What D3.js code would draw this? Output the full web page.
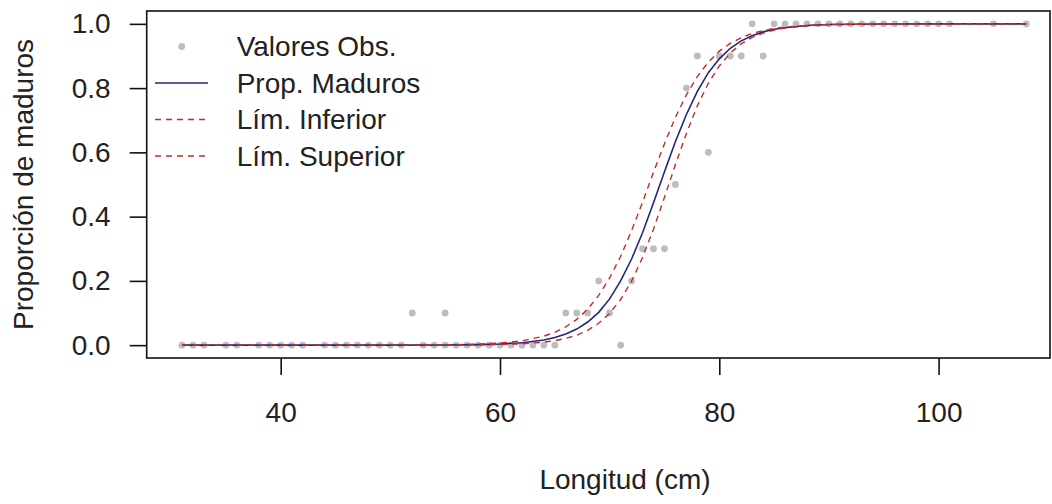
<!DOCTYPE html>
<html>
<head>
<meta charset="utf-8">
<script src="https://cdn.jsdelivr.net/npm/d3@7"></script>
<style>
  html, body { margin: 0; padding: 0; background: #fff; }
  svg { display: block; }
  text { font-family: "Liberation Sans", Arial, sans-serif; fill: #222; }
</style>
</head>
<body>
<svg id="chart" width="1052" height="504"></svg>
<script>
// Observed proportions (length in cm, proportion mature)
const obsLength = [31,32,33,35,36,38,39,40,41,42,44,45,46,47,48,49,50,51,
  52,53,54,55,55,56,57,58,59,60,61,62,63,64,65,
  66,67,68,69,70,71,72,73,74,75,76,77,78,79,80,81,82,83,84,
  85,86,87,88,89,90,91,92,93,94,95,96,97,98,99,100,101,105,108];
const obsProp = [0,0,0,0,0,0,0,0,0,0,0,0,0,0,0,0,0,0,
  0.1,0,0,0.1,0,0,0,0,0,0,0,0,0,0,0,
  0.1,0.1,0.1,0.2,0.1,0,0.2,0.3,0.3,0.3,0.5,0.8,0.9,0.6,0.9,0.9,0.9,1.0,0.9,
  1,1,1,1,1,1,1,1,1,1,1,1,1,1,1,1,1,1,1];

// Fitted curve and confidence limits, read at these lengths
const fitLength = [31,40,50,55,58,60,62,64,65,66,67,68,69,70,71,72,73,74,75,76,77,78,79,80,81,82,83,84,85,86,88,90,95,100,105,108];
const propMaduros = [0,0,0,0.0005,0.0017,0.0035,0.0076,0.016,0.024,0.035,0.050,0.072,0.102,0.144,0.200,0.268,0.350,0.443,0.540,0.634,0.718,0.790,0.848,0.891,0.924,0.947,0.963,0.975,0.983,0.988,0.995,0.998,0.9997,1,1,1];
const limInferior = [0,0,0,0.0002,0.0008,0.0018,0.0041,0.0093,0.014,0.021,0.031,0.046,0.068,0.099,0.142,0.199,0.273,0.361,0.460,0.562,0.659,0.745,0.815,0.869,0.909,0.938,0.958,0.971,0.981,0.987,0.994,0.9975,0.9997,1,1,1];
const limSuperior = [0,0,0.0002,0.001,0.0031,0.0065,0.0135,0.028,0.040,0.057,0.080,0.112,0.155,0.209,0.276,0.356,0.445,0.538,0.627,0.709,0.779,0.836,0.881,0.915,0.939,0.957,0.970,0.979,0.986,0.990,0.995,0.998,0.9996,1,1,1];

const xTicks = [40,60,80,100];
const yTicks = [0,0.2,0.4,0.6,0.8,1.0];
const legendLabels = ["Valores Obs.","Prop. Maduros","Lím. Inferior","Lím. Superior"];

const svg = d3.select("#chart");
const W = 1052, H = 504;
const box = {left: 146.7, right: 1050, top: 11, bottom: 358};

const x = d3.scaleLinear().domain([27.78, 110.16]).range([box.left, box.right]);
const y = d3.scaleLinear().domain([-0.04, 1.04]).range([box.bottom, box.top]);

svg.append("rect").attr("width", W).attr("height", H).attr("fill", "#fff");

// points
svg.append("g").selectAll("circle").data(obsLength.map((d,i)=>[d,obsProp[i]]))
  .join("circle")
  .attr("cx", d=>x(d[0])).attr("cy", d=>y(d[1])).attr("r", 3.4)
  .attr("fill", "#bdbdbd");

const line = d3.line().x(d=>x(d[0])).y(d=>y(d[1]));
const blue = "#25257e", red = "#c42a2a";
svg.append("path").datum(fitLength.map((d,i)=>[d,propMaduros[i]]))
  .attr("d", line).attr("fill","none").attr("stroke", blue).attr("stroke-width", 1.6);
svg.append("path").datum(fitLength.map((d,i)=>[d,limInferior[i]]))
  .attr("d", line).attr("fill","none").attr("stroke", red).attr("stroke-width", 1.4)
  .attr("stroke-dasharray","6,5");
svg.append("path").datum(fitLength.map((d,i)=>[d,limSuperior[i]]))
  .attr("d", line).attr("fill","none").attr("stroke", red).attr("stroke-width", 1.4)
  .attr("stroke-dasharray","6,5");

// box
svg.append("rect").attr("x", box.left).attr("y", box.top)
  .attr("width", box.right-box.left).attr("height", box.bottom-box.top)
  .attr("fill","none").attr("stroke","#111").attr("stroke-width",1.6);

// axes
const xAxis = d3.axisBottom(x).tickValues(xTicks).tickSize(17).tickPadding(27).tickFormat(d3.format("d"));
const gx = svg.append("g").attr("transform", `translate(0,${box.bottom})`).call(xAxis);
gx.select(".domain").remove();
gx.selectAll(".tick line").attr("stroke","#111").attr("stroke-width",1.6);
gx.selectAll(".tick text").attr("font-size", 28).attr("fill","#222")
  .attr("font-family","Liberation Sans, Arial, sans-serif");

const yAxis = d3.axisLeft(y).tickValues(yTicks).tickSize(17).tickPadding(19).tickFormat(d3.format(".1f"));
const gy = svg.append("g").attr("transform", `translate(${box.left},0)`).call(yAxis);
gy.select(".domain").remove();
gy.selectAll(".tick line").attr("stroke","#111").attr("stroke-width",1.6);
gy.selectAll(".tick text").attr("font-size", 28).attr("fill","#222")
  .attr("font-family","Liberation Sans, Arial, sans-serif");

// axis titles
svg.append("text").attr("x", 625).attr("y", 479)
  .attr("text-anchor","middle").attr("dominant-baseline","central")
  .attr("font-size", 28).text("Longitud (cm)");
svg.append("text").attr("transform", `translate(23,${(box.top+box.bottom)/2}) rotate(-90)`)
  .attr("text-anchor","middle").attr("dominant-baseline","central")
  .attr("font-size", 28).text("Proporción de maduros");

// legend
const lg = svg.append("g");
const rowY = [46.5, 83, 119.5, 156];
lg.append("circle").attr("cx", 181.7).attr("cy", rowY[0]).attr("r", 3.4).attr("fill","#bdbdbd");
lg.append("line").attr("x1",155).attr("x2",208).attr("y1",rowY[1]).attr("y2",rowY[1])
  .attr("stroke",blue).attr("stroke-width",1.6);
[2,3].forEach(i=>{
  lg.append("line").attr("x1",155).attr("x2",208).attr("y1",rowY[i]).attr("y2",rowY[i])
    .attr("stroke",red).attr("stroke-width",1.4).attr("stroke-dasharray","6,5");
});
lg.selectAll("text.lab").data(legendLabels).join("text").attr("class","lab")
  .attr("x", 236.7).attr("y",(d,i)=>rowY[i]).attr("dominant-baseline","central")
  .attr("font-size", 28).text(d=>d);
</script>
</body>
</html>
